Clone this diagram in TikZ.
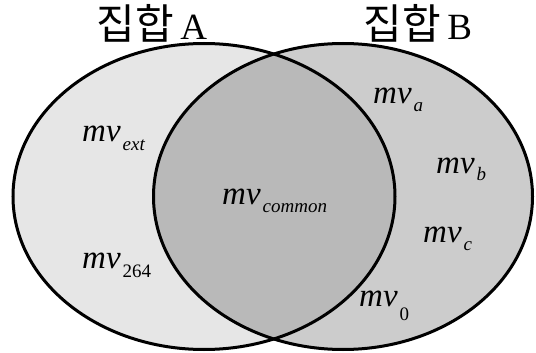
\documentclass[tikz,border=0pt]{standalone}
\usepackage{fontspec}
\setmainfont{Liberation Serif}
\newfontfamily\krfont{Noto Sans CJK KR}

\definecolor{setAfill}{HTML}{E6E6E6}
\definecolor{setBfill}{HTML}{CCCCCC}
\definecolor{commonfill}{HTML}{B9B9B9}

\newcommand{\mvsub}[2][9pt]{\kern2pt\raisebox{-#1}{\fontsize{19}{19}\selectfont #2}}

\begin{document}
\begin{tikzpicture}[
    x=1pt, y=-1pt,
    setline/.style={draw=black, line width=3pt},
    title/.style={anchor=base, inner sep=0pt, font=\fontsize{37}{37}\selectfont},
    elem/.style={anchor=base west, inner sep=0pt, font=\fontsize{33}{33}\selectfont\itshape}
]
    \useasboundingbox (0,0) rectangle (536,353);

    % Sets
    \fill [setAfill] (204,196.5) ellipse [x radius=191pt, y radius=153pt];
    \fill [setBfill] (343,196.5) ellipse [x radius=189.5pt, y radius=153pt];
    \begin{scope}
        \clip (204,196.5) ellipse [x radius=191pt, y radius=153pt];
        \fill [commonfill] (343,196.5) ellipse [x radius=189.5pt, y radius=153pt];
    \end{scope}
    \draw [setline] (204,196.5) ellipse [x radius=191pt, y radius=153pt];
    \draw [setline] (343,196.5) ellipse [x radius=189.5pt, y radius=153pt];

    % Titles
    \node [title] (titleA) at (152,40) {{\krfont\fontsize{42}{42}\selectfont 집합}\,A};
    \node [title] (titleB) at (418,40) {{\krfont\fontsize{42}{42}\selectfont 집합}\,B};

    % Elements
    \node [elem] (ext) at (82,142) {mv\mvsub{ext}};
    \node [elem] (v264) at (82,268) {mv\mvsub{\upshape 264}};
    \node [elem] (common) at (222,204) {mv\mvsub{common}};
    \node [elem] (va) at (373,103) {mv\mvsub{a}};
    \node [elem] (vb) at (436,173) {mv\mvsub[7pt]{b}};
    \node [elem] (vc) at (423,242) {mv\mvsub[8pt]{c}};
    \node [elem] (v0) at (359,306) {mv\mvsub[14pt]{\upshape 0}};

\end{tikzpicture}
\end{document}
